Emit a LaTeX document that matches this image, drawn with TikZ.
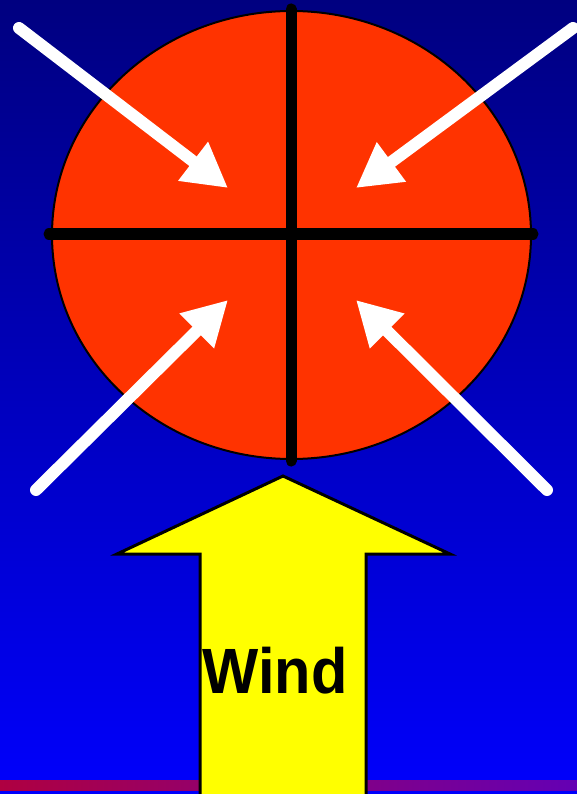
\documentclass[tikz,border=0pt]{standalone}
\usepackage{fontspec}
\setmainfont{Liberation Sans}
\usetikzlibrary{arrows.meta}
\definecolor{bgtop}{RGB}{0,0,128}
\definecolor{bgbot}{RGB}{0,0,252}
\definecolor{stripL}{RGB}{175,0,65}
\definecolor{stripR}{RGB}{100,0,180}
\definecolor{ballred}{RGB}{255,51,0}
\definecolor{windyellow}{RGB}{255,255,0}
\tikzset{
  windarrow/.style={white,line width=12pt,line cap=round,-{Triangle[length=44pt,width=46pt]}},
  crossline/.style={black,line width=11pt,line cap=round},
}
\begin{document}
\begin{tikzpicture}[x=1pt,y=-1pt]
\useasboundingbox (0,0) rectangle (577,794);
\shade[top color=bgtop,bottom color=bgbot] (0,0) rectangle (577,794);
\shade[left color=stripL,right color=stripR] (0,780) rectangle (577,790);
% ball
\filldraw[fill=ballred,draw=black,line width=2pt] (291.5,235) ellipse [x radius=239.5,y radius=224];
\draw[crossline] (291,9) -- (291,461);
\draw[crossline] (49,234) -- (533,234);
% arrows
\coordinate (tlA) at (19,28);   \coordinate (tlB) at (228,188);
\coordinate (trA) at (573,28);  \coordinate (trB) at (356,188);
\coordinate (blA) at (36,490);  \coordinate (blB) at (228,300);
\coordinate (brA) at (547,490); \coordinate (brB) at (356,300);
\draw[windarrow] (tlA) -- (tlB);
\draw[windarrow] (trA) -- (trB);
\draw[windarrow] (blA) -- (blB);
\draw[windarrow] (brA) -- (brB);
% wind arrow
\filldraw[fill=windyellow,draw=black,line width=3pt,line join=miter]
  (200,800) -- (200,554) -- (117,554) -- (283,476) -- (450,554) -- (366,554) -- (366,800);
\node[anchor=base,font=\bfseries\fontsize{64}{64}\selectfont,xscale=0.93,inner sep=0pt] (wind) at (275,693) {Wind};
\end{tikzpicture}
\end{document}
